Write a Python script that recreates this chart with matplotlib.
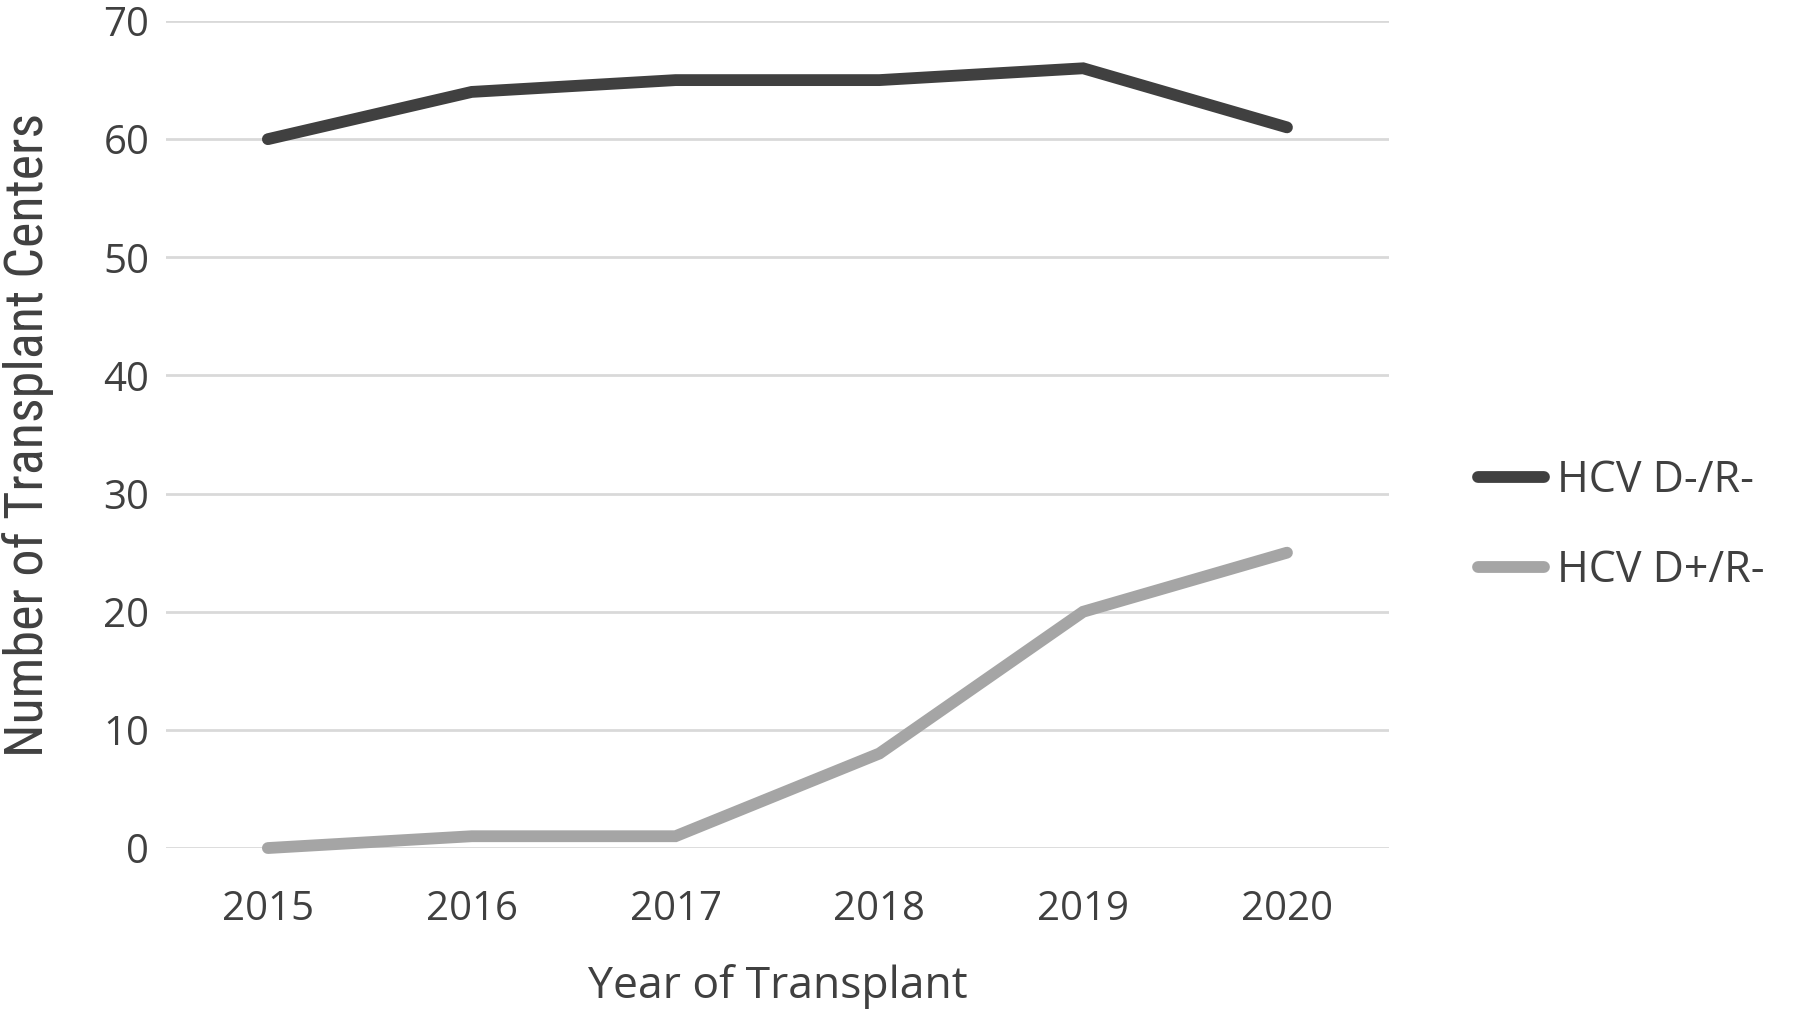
import numpy as np
import matplotlib.pyplot as plt

years = ['2015', '2016', '2017', '2018', '2019', '2020']
neg_neg = [60, 64, 65, 65, 66, 61]   # HCV D-/R-
pos_neg = [0, 1, 1, 8, 20, 25]       # HCV D+/R-

plt.rcParams['font.family'] = ['Open Sans', 'DejaVu Sans']
text_col = '#404040'

fig = plt.figure(figsize=(18, 10.21), dpi=100)
ax = fig.add_axes([0.0922, 0.1694, 0.6794, 0.81])

x = np.arange(len(years))
ax.plot(x, neg_neg, color='#404040', lw=8.5, solid_capstyle='round',
        solid_joinstyle='miter', label='HCV D-/R-', zorder=3, clip_on=False)
ax.plot(x, pos_neg, color='#a5a5a5', lw=8.5, solid_capstyle='round',
        solid_joinstyle='miter', label='HCV D+/R-', zorder=3, clip_on=False)

ax.set_xlim(-0.5, len(years) - 0.5)
ax.set_ylim(0, 70)
ax.set_yticks(range(0, 71, 10))
ax.set_xticks(x)
ax.set_xticklabels(years)
ax.grid(axis='y', color='#d9d9d9', lw=2)
ax.set_axisbelow(True)
for s in ax.spines.values():
    s.set_visible(False)
ax.tick_params(length=0, labelsize=29, colors=text_col)
ax.tick_params(axis='x', pad=30)
ax.tick_params(axis='y', pad=12)

ax.set_xlabel('Year of Transplant', fontsize=32, color=text_col, va='center')
ax.xaxis.set_label_coords(0.5, -0.168)
ax.set_ylabel('Number of Transplant Centers', fontsize=39, color=text_col,
              family=['Roboto Condensed', 'Liberation Sans Narrow', 'Open Sans'],
              va='center')
ax.yaxis.set_label_coords(-0.113, 0.5)

leg = ax.legend(loc='center left', bbox_to_anchor=(1.055, 0.39), frameon=False,
                fontsize=31, handlelength=1.55, handletextpad=0.3,
                labelspacing=1.05, borderpad=0, labelcolor=text_col)
for h in leg.get_lines():
    h.set_solid_capstyle('round')

fig.savefig('out.png', dpi=100, facecolor='white')
